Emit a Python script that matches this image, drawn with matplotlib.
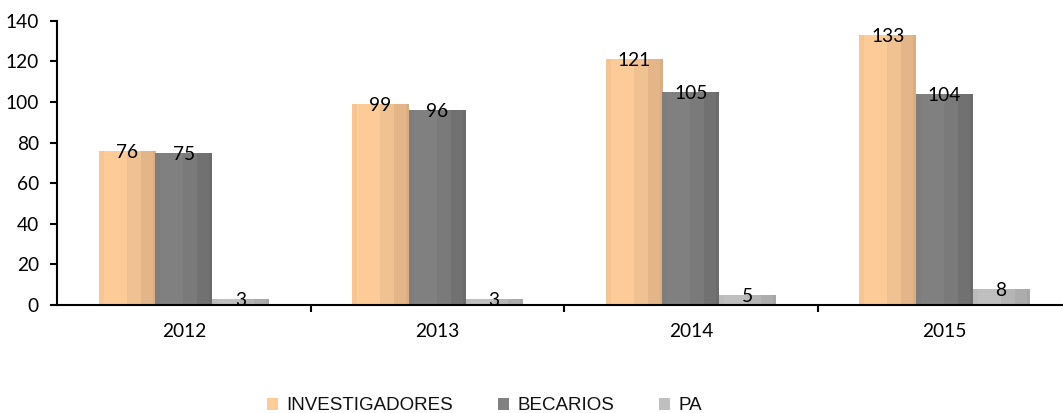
import matplotlib
matplotlib.use("Agg")
import matplotlib.pyplot as plt
import numpy as np
from matplotlib.colors import to_rgb

years = ["2012", "2013", "2014", "2015"]
series_names = ["INVESTIGADORES", "BECARIOS", "PA"]
investigadores = [76, 99, 121, 133]
becarios = [75, 96, 105, 104]
pa = [3, 3, 5, 8]
values = [investigadores, becarios, pa]

base_colors = ["#FDCB98", "#808080", "#BFBFBF"]
band_colors = [
    ["#F6C593", "#FDCB98", "#F0C291", "#E3B588", "#DAAD83"],
    ["#7D7D7D", "#808080", "#7A7A7A", "#717171", "#6B6B6B"],
    ["#BBBBBB", "#BFBFBF", "#B5B5B5", "#ACACAC", "#A6A6A6"],
]
band_stops = [0.0, 0.08, 0.5, 0.73, 0.95, 1.0]

fig = plt.figure(figsize=(10.63, 4.13), dpi=100)
ax = fig.add_axes([57 / 1063, 108 / 413, 1006 / 1063, 284.3 / 413])

num_font = "Lato"
num_size = 13.8
x = np.arange(len(years))
w = 0.2236

ncols = 200
for i, (vals, col, bands) in enumerate(zip(values, base_colors, band_colors)):
    pos = x + (i - 1) * w
    bars = ax.bar(pos, vals, width=w, color=col, edgecolor="none",
                  label=series_names[i], zorder=2)
    fr = (np.arange(ncols) + 0.5) / ncols
    img = np.zeros((1, ncols, 3))
    for k in range(len(bands)):
        m = (fr >= band_stops[k]) & (fr < band_stops[k + 1])
        img[0, m] = to_rgb(bands[k])
    for b, v in zip(bars, vals):
        x0, y0 = b.get_x(), b.get_y()
        bw, bh = b.get_width(), b.get_height()
        im = ax.imshow(img, extent=(x0, x0 + bw, y0, y0 + bh), aspect="auto",
                       interpolation="nearest", zorder=3)
        im.set_clip_path(b)
        ax.annotate(str(v), (x0 + bw / 2, v), xytext=(0, -1.0),
                    textcoords="offset points", ha="center", va="center",
                    fontsize=num_size, family=num_font, color="black", zorder=5)

ax.set_xlim(-0.5, 3.468)
ax.set_ylim(0, 140)
ax.set_yticks(np.arange(0, 141, 20))
ax.set_xticks(x)
ax.set_xticklabels(years)
ax.set_xticks([0.5, 1.5, 2.5], minor=True)
ax.tick_params(axis="x", which="major", length=0, pad=13)
ax.tick_params(axis="x", which="minor", length=5, width=1.5, direction="out")
ax.tick_params(axis="y", length=5, width=1.5, direction="out", pad=8)
for lab in ax.get_xticklabels() + ax.get_yticklabels():
    lab.set_family(num_font)
    lab.set_fontsize(num_size)

for s in ["top", "right"]:
    ax.spines[s].set_visible(False)
for s in ["left", "bottom"]:
    ax.spines[s].set_linewidth(1.5)
    ax.spines[s].set_color("black")
    ax.spines[s].set_zorder(6)

leg = fig.legend(loc="center", bbox_to_anchor=(484.5 / 1063, 7 / 413), ncol=3,
                 frameon=False, prop={"family": "Liberation Sans", "size": 13.5},
                 handlelength=0.6, handleheight=0.6, handletextpad=0.43,
                 columnspacing=2.4, borderaxespad=0, borderpad=0)
for t in leg.get_texts():
    t.set_color("#111111")

fig.savefig("out.png", dpi=100)
